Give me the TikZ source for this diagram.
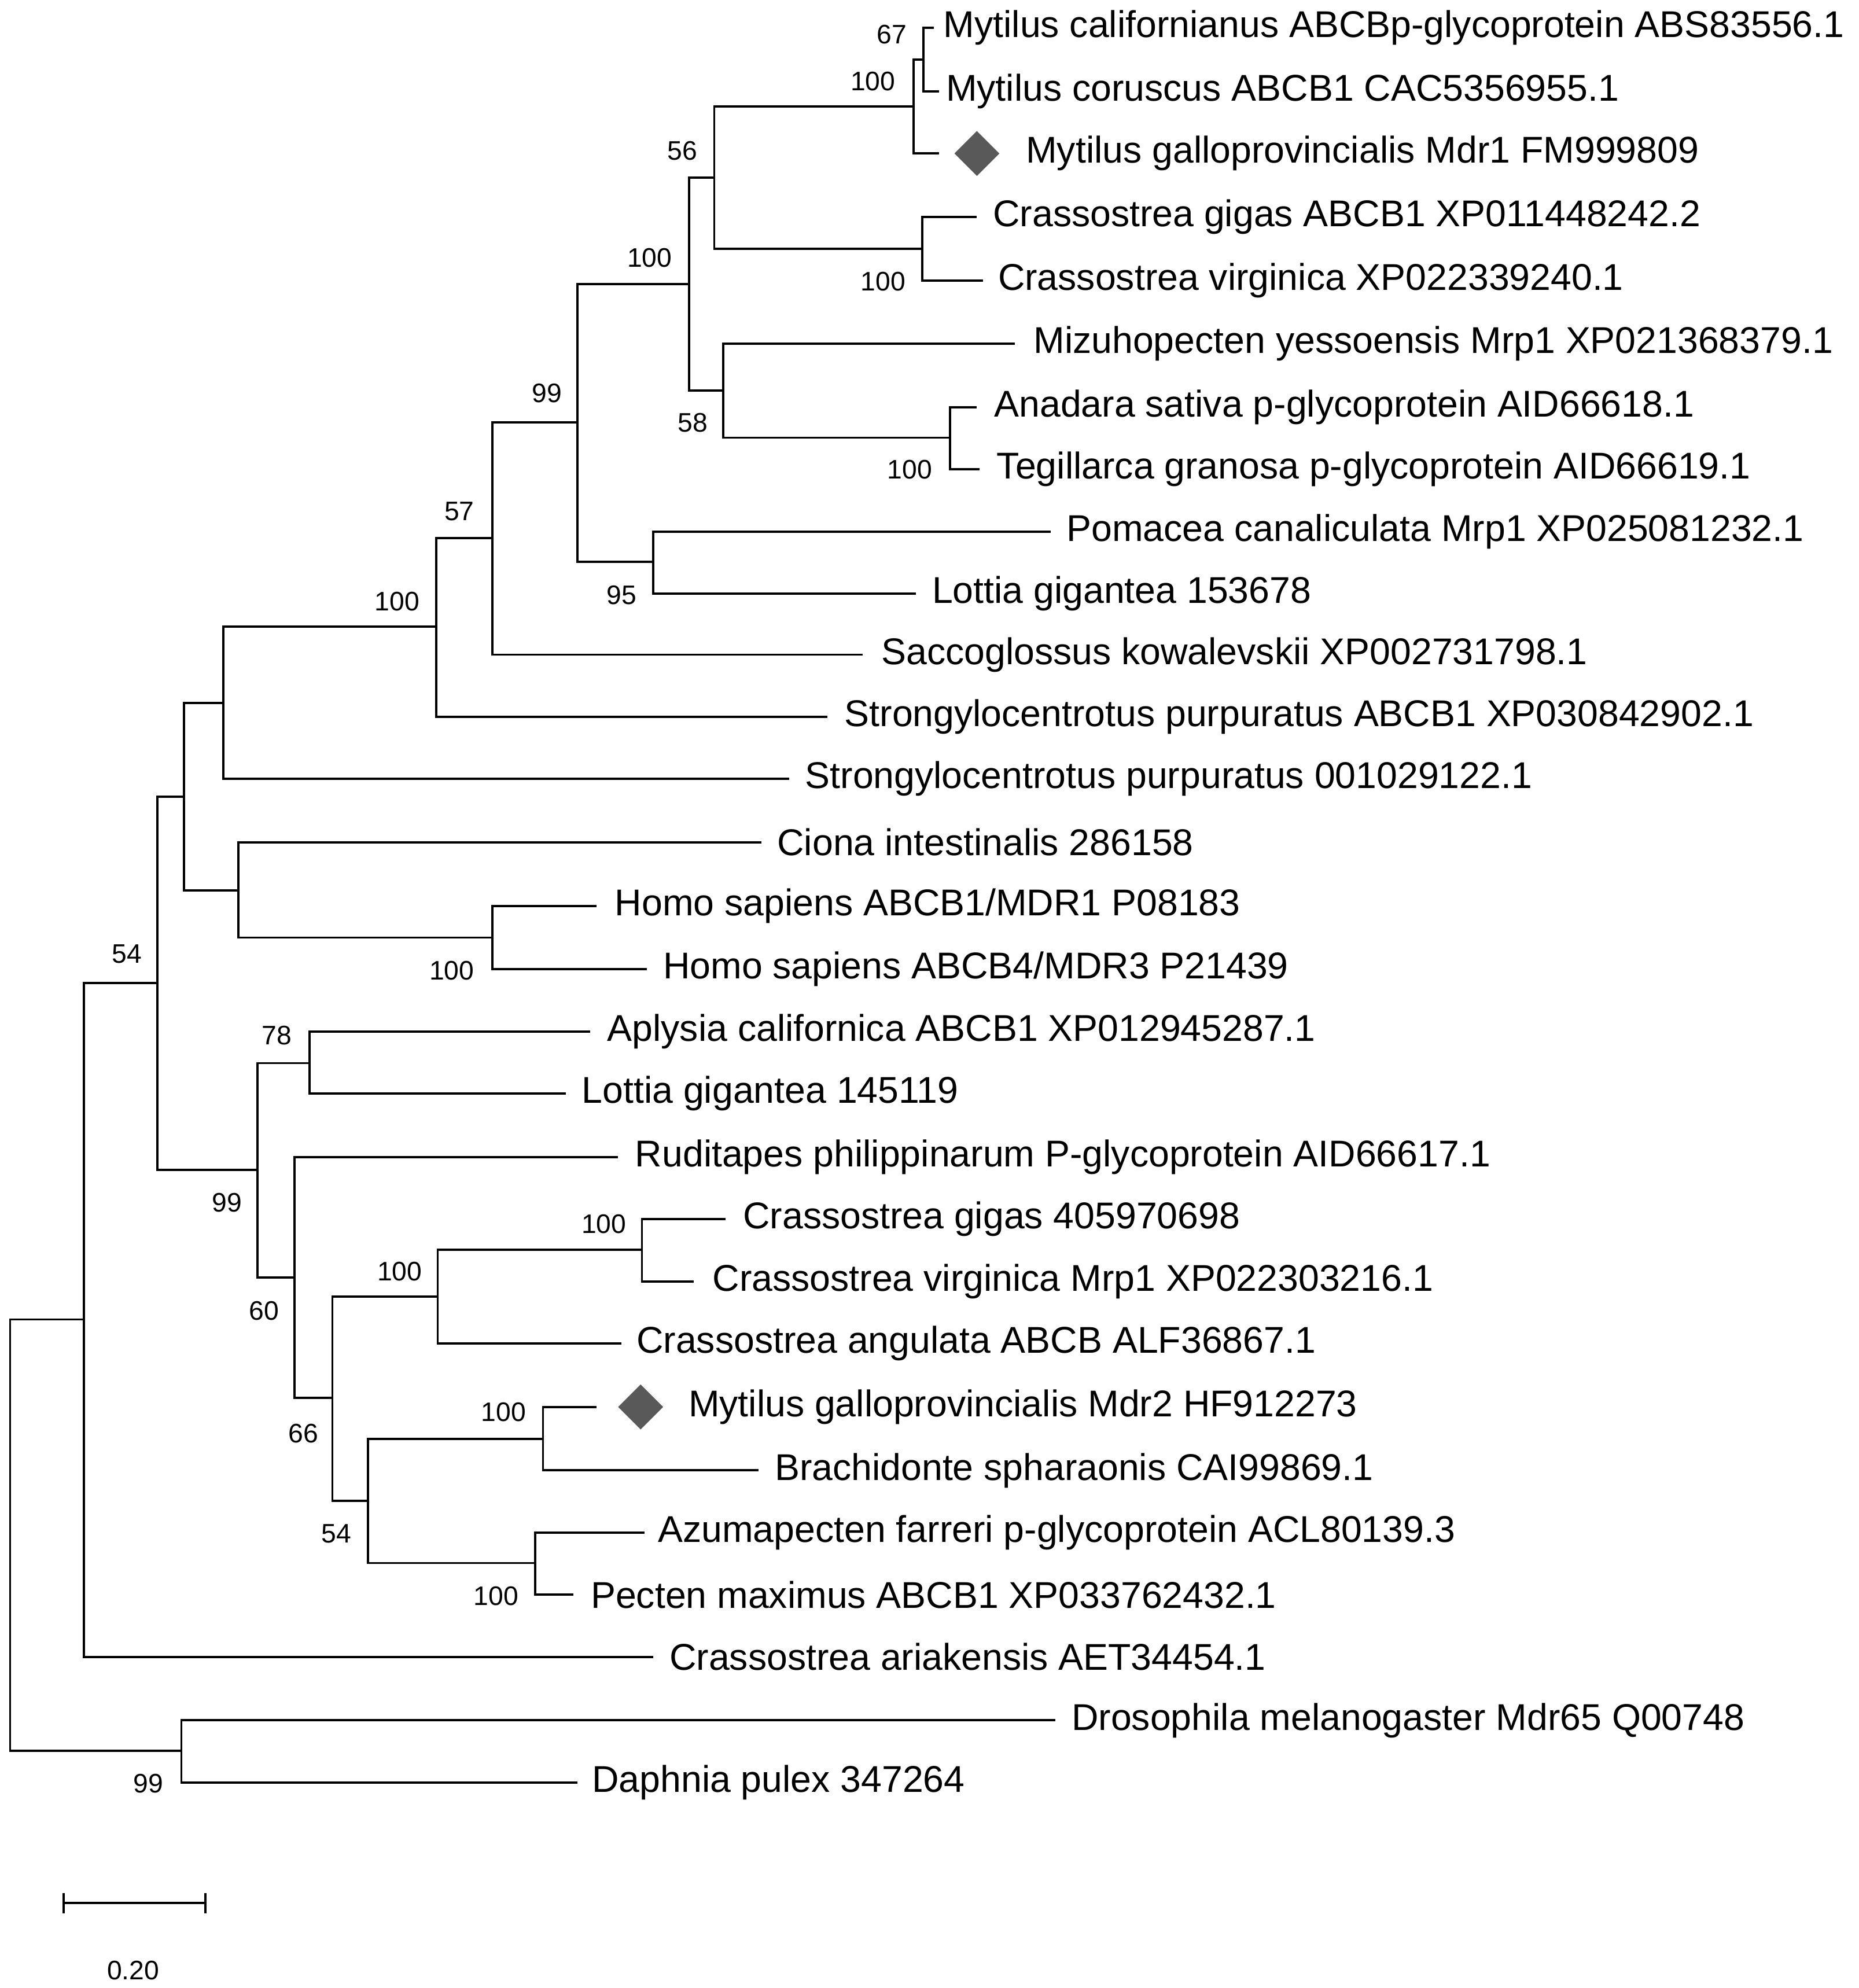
\documentclass[tikz,border=0pt]{standalone}
\usepackage{fontspec}
\setmainfont{Liberation Sans}
\usetikzlibrary{shapes.geometric}
\begin{document}
\begin{tikzpicture}[x=0.01cm,y=-0.01cm,
  leaf/.style={anchor=west,inner sep=0pt,font=\fontsize{8.35pt}{9pt}\selectfont},
  bs/.style={inner sep=0pt,font=\fontsize{6pt}{7pt}\selectfont},
  br/.style={line width=0.5pt},
  dia/.style={diamond,fill=black!65,minimum size=0.36cm,inner sep=0pt}]
\useasboundingbox (0,0) rectangle (1465,1567);
\foreach \n/\x/\y/\e/\t in {
 1/743/22/736/{Mytilus californianus ABCBp-glycoprotein ABS83556.1},
 2/745/72/740/{Mytilus coruscus ABCB1 CAC5356955.1},
 3/808/121/740/{Mytilus galloprovincialis Mdr1 FM999809},
 4/782/171/770/{Crassostrea gigas ABCB1 XP011448242.2},
 5/786/221/775/{Crassostrea virginica XP022339240.1},
 6/814/271/800/{Mizuhopecten yessoensis Mrp1 XP021368379.1},
 7/783/321/770/{Anadara sativa p-glycoprotein AID66618.1},
 8/785/370/772/{Tegillarca granosa p-glycoprotein AID66619.1},
 9/840/419/828/{Pomacea canaliculata Mrp1 XP025081232.1},
 10/734/468/722/{Lottia gigantea 153678},
 11/694/516/680/{Saccoglossus kowalevskii XP002731798.1},
 12/665/565/652/{Strongylocentrotus purpuratus ABCB1 XP030842902.1},
 13/634/614/622/{Strongylocentrotus purpuratus 001029122.1},
 14/612/664/600/{Ciona intestinalis 286158},
 15/484/714/470/{Homo sapiens ABCB1/MDR1 P08183},
 16/522/764/510/{Homo sapiens ABCB4/MDR3 P21439},
 17/478/813/465/{Aplysia californica ABCB1 XP012945287.1},
 18/458/862/446/{Lottia gigantea 145119},
 19/500/912/487/{Ruditapes philippinarum  P-glycoprotein AID66617.1},
 20/585/961/572/{Crassostrea gigas 405970698},
 21/561/1010/547/{Crassostrea virginica Mrp1 XP022303216.1},
 22/501/1059/490/{Crassostrea angulata ABCB ALF36867.1},
 23/542/1109/470/{Mytilus galloprovincialis Mdr2 HF912273},
 24/610/1159/598/{Brachidonte spharaonis CAI99869.1},
 25/518/1208/508/{Azumapecten farreri p-glycoprotein ACL80139.3},
 26/465/1257/452/{Pecten maximus ABCB1 XP033762432.1},
 27/527/1306/515/{Crassostrea ariakensis AET34454.1},
 28/844/1356/832/{Drosophila melanogaster Mdr65 Q00748},
 29/466/1405/455/{Daphnia pulex 347264}}
{ \node[leaf] (L\n) at (\x,\y) {\t}; \coordinate (e\n) at (\e,\y); }
\node[dia] (d1) at (770,121) {};
\node[dia] (d2) at (505,1109) {};
\coordinate (nA) at (728,47);
\coordinate (nB) at (720,84);
\coordinate (nC) at (727,196);
\coordinate (nD) at (563,140);
\coordinate (nE) at (749,345);
\coordinate (nF) at (570,308);
\coordinate (nG) at (543,224);
\coordinate (nH) at (515,443);
\coordinate (nI) at (455,333);
\coordinate (nJ) at (388,424);
\coordinate (nK) at (344,494);
\coordinate (nL) at (176,554);
\coordinate (nM) at (388,739);
\coordinate (nN) at (188,702);
\coordinate (nO) at (145,628);
\coordinate (nP) at (244,838);
\coordinate (nQ) at (506,985);
\coordinate (nR) at (345,1022);
\coordinate (nS) at (428,1134);
\coordinate (nT) at (422,1232);
\coordinate (nU) at (290,1183);
\coordinate (nV) at (262,1102);
\coordinate (nW) at (232,1007);
\coordinate (nX) at (203,922);
\coordinate (nY) at (124,775);
\coordinate (nZ) at (66,1040);
\coordinate (nDr) at (143,1380);
\coordinate (root) at (8,1210);
\foreach \p/\c in {nA/e1,nA/e2,nB/nA,nB/e3,nC/e4,nC/e5,nD/nB,nD/nC,nE/e7,nE/e8,nF/e6,nF/nE,
 nG/nD,nG/nF,nH/e9,nH/e10,nI/nG,nI/nH,nJ/nI,nJ/e11,nK/nJ,nK/e12,nL/nK,nL/e13,
 nM/e15,nM/e16,nN/e14,nN/nM,nO/nL,nO/nN,nP/e17,nP/e18,nQ/e20,nQ/e21,nR/nQ,nR/e22,
 nS/e23,nS/e24,nT/e25,nT/e26,nU/nS,nU/nT,nV/nR,nV/nU,nW/e19,nW/nV,nX/nP,nX/nW,
 nY/nO,nY/nX,nZ/nY,nZ/e27,nDr/e28,nDr/e29,root/nZ,root/nDr}
{ \draw[br] (\p) |- (\c); }
\foreach \x/\y/\v in {703/27/67,688/64/100,538/119/56,696/222/100,512/203/100,546/333/58,
 717/370/100,431/310/99,490/469/95,362/403/57,313/474/100,100/752/54,356/765/100,
 218/816/78,179/948/99,476/965/100,315/1002/100,208/1033/60,397/1113/100,239/1130/66,
 265/1209/54,391/1258/100,117/1406/99}
{ \node[bs] at (\x,\y) {\v}; }
\coordinate (sb1) at (50,1500);
\coordinate (sb2) at (162,1500);
\draw[br] (sb1) -- (sb2);
\draw[br] (50,1492) -- (50,1508);
\draw[br] (162,1492) -- (162,1508);
\node[bs] (sbl) at (105,1553) {0.20};
\end{tikzpicture}
\end{document}
